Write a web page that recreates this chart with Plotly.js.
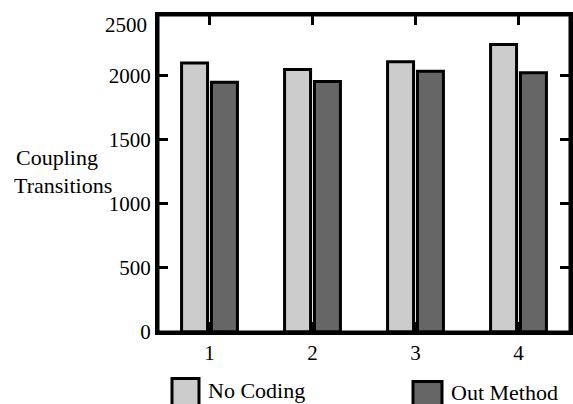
<!DOCTYPE html>
<html>
<head>
<meta charset="utf-8">
<script src="https://cdn.plot.ly/plotly-3.0.1.min.js"></script>
<style>
html,body{margin:0;padding:0;background:#fff;}
#chart{width:573px;height:404px;}
#done{position:absolute;left:0;top:0;width:1px;height:1px;font-size:1px;color:#fff;}
</style>
</head>
<body>
<div id="chart"></div>
<div id="done"></div>
<script>
const categories = ['1', '2', '3', '4'];
const seriesNames = ['No Coding', 'Out Method'];
const noCoding = [2100, 2050, 2110, 2245];
const outMethod = [1950, 1955, 2035, 2025];
const yTickVals = [0, 500, 1000, 1500, 2000];
const yTopLabel = '2500';
const yTitleLines = ['Coupling', 'Transitions'];

const FONT = '"Liberation Serif", serif';
const W = 573, H = 404, L = 158, R = 3, T = 15, B = 72;
const pw = W - L - R, ph = H - T - B;
const px = x => (x - L) / pw;
const py = y => (H - B - y) / ph;

const traces = [
  {type: 'bar', x: categories, y: noCoding, name: seriesNames[0],
   marker: {color: '#cccccc', line: {color: '#000', width: 3}}, showlegend: false},
  {type: 'bar', x: categories, y: outMethod, name: seriesNames[1],
   marker: {color: '#666666', line: {color: '#000', width: 3}}, showlegend: false}
];

const layout = {
  width: W, height: H,
  margin: {l: L, r: R, t: T, b: B, pad: 0},
  paper_bgcolor: '#fff', plot_bgcolor: '#fff',
  font: {family: FONT, size: 21, color: '#000'},
  barmode: 'group', bargap: 0.42, bargroupgap: 0.13,
  xaxis: {type: 'category', showline: true, linecolor: '#000', linewidth: 3, mirror: 'ticks',
    ticks: 'inside', ticklen: 10, tickwidth: 3, tickcolor: '#000',
    showgrid: false, zeroline: false, tickfont: {family: FONT, size: 21}},
  yaxis: {range: [0, 2475], tickvals: yTickVals, ticks: 'inside', ticklen: 10, tickwidth: 3,
    tickcolor: '#000', showline: true, linecolor: '#000', linewidth: 3, mirror: 'ticks',
    showgrid: false, zeroline: false, tickfont: {family: FONT, size: 21}},
  shapes: [
    {type: 'rect', xref: 'paper', yref: 'paper', x0: 0, x1: 1, y0: 0, y1: 1,
     line: {color: '#000', width: 3}, layer: 'above'},
    {type: 'rect', xref: 'paper', yref: 'paper', x0: px(172), x1: px(199), y0: py(407), y1: py(378.5),
     fillcolor: '#cccccc', line: {color: '#000', width: 3}},
    {type: 'rect', xref: 'paper', yref: 'paper', x0: px(413), x1: px(442), y0: py(407), y1: py(381.5),
     fillcolor: '#666666', line: {color: '#000', width: 3}}
  ],
  annotations: [
    {xref: 'paper', yref: 'paper', x: px(149), y: py(25), xanchor: 'right', yanchor: 'middle',
     text: yTopLabel, showarrow: false, font: {family: FONT, size: 21}},
    {xref: 'paper', yref: 'paper', x: px(14), y: py(157), xanchor: 'left', yanchor: 'middle',
     text: yTitleLines[0], showarrow: false, font: {family: FONT, size: 22}},
    {xref: 'paper', yref: 'paper', x: px(12), y: py(185), xanchor: 'left', yanchor: 'middle',
     text: yTitleLines[1], showarrow: false, font: {family: FONT, size: 22}},
    {xref: 'paper', yref: 'paper', x: px(206), y: py(390), xanchor: 'left', yanchor: 'middle',
     text: seriesNames[0], showarrow: false, font: {family: FONT, size: 22}},
    {xref: 'paper', yref: 'paper', x: px(449), y: py(392), xanchor: 'left', yanchor: 'middle',
     text: seriesNames[1], showarrow: false, font: {family: FONT, size: 22}}
  ]
};

Plotly.newPlot('chart', traces, layout, {staticPlot: true}).then(() => {
  document.getElementById('done').textContent = '.';
  document.body.setAttribute('data-rendered', '1');
});
</script>
</body>
</html>
